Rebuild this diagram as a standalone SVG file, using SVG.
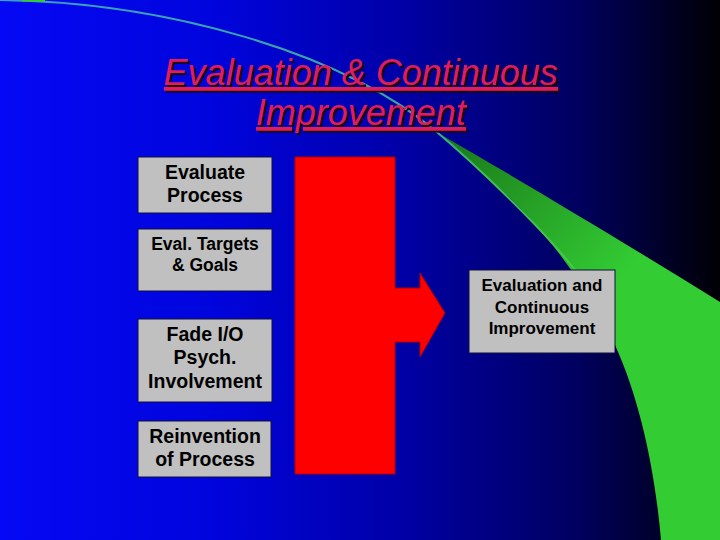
<svg xmlns="http://www.w3.org/2000/svg" width="720" height="540" viewBox="0 0 720 540">
  <defs>
    <linearGradient id="bg" x1="0" y1="0" x2="720" y2="0" gradientUnits="userSpaceOnUse">
      <stop offset="0" stop-color="#0508f4"/>
      <stop offset="0.3" stop-color="#0004dc"/>
      <stop offset="0.55" stop-color="#0000a8"/>
      <stop offset="0.8" stop-color="#000060"/>
      <stop offset="1" stop-color="#000004"/>
    </linearGradient>
    <linearGradient id="green" x1="450" y1="140" x2="610" y2="290" gradientUnits="userSpaceOnUse">
      <stop offset="0" stop-color="#1a7a1a"/>
      <stop offset="1" stop-color="#33cc33"/>
    </linearGradient>
    <linearGradient id="lineg" x1="18" y1="0" x2="575" y2="270" gradientUnits="userSpaceOnUse">
      <stop offset="0" stop-color="#3aa0c0"/>
      <stop offset="0.7" stop-color="#3aa898"/>
      <stop offset="0.8" stop-color="#40c050"/>
      <stop offset="1" stop-color="#44cc44"/>
    </linearGradient>
    <filter id="shadow" x="-5%" y="-20%" width="110%" height="140%">
      <feDropShadow dx="2" dy="2" stdDeviation="0" flood-color="#1a0010" flood-opacity="1"/>
    </filter>
    <style>
      .box { fill: #c0c0c0; stroke: #10103a; stroke-width: 1; }
      .lbl { font-family: "Liberation Sans", Arial, sans-serif; font-weight: bold; fill: #000000; text-anchor: middle; }
      .title { font-family: "Liberation Sans", Arial, sans-serif; font-style: italic; font-size: 36px; text-anchor: middle; text-decoration: underline; fill: #e01e5a; }
    </style>
  </defs>

  <rect x="0" y="0" width="720" height="540" fill="url(#bg)"/>

  <g id="swoosh">
    <path d="M 438 133 C 520 180, 620 240, 720 302 L 720 540 L 661 540 C 655 470, 640 400, 615 345 C 590 290, 545 230, 505 193 C 480 170, 456 150, 438 133 Z" fill="url(#green)"/>
    <path d="M 0 0 C 160 2, 340 50, 438 133 C 470 160, 540 225, 575 270" fill="none" stroke="url(#lineg)" stroke-width="2"/>
    <path d="M 22 0.5 L 45 1" fill="none" stroke="#33cc33" stroke-width="2"/>
  </g>

  <g id="title" filter="url(#shadow)">
    <text class="title" x="361" y="85">Evaluation &amp; Continuous</text>
    <text class="title" x="361" y="125">Improvement</text>
  </g>

  <g id="connectors">
    <path id="merge-arrow" d="M 295 157 H 395 V 288 H 420 V 273 L 445 313 L 420 357 V 342 H 395 V 474 H 295 Z" fill="#ff0000" stroke="#b00000" stroke-width="1"/>
  </g>

  <g id="evaluate-process">
    <rect class="box" x="138" y="157" width="134" height="56"/>
    <text class="lbl" x="205" y="179" font-size="19.5">Evaluate</text>
    <text class="lbl" x="205" y="202" font-size="19.5">Process</text>
  </g>

  <g id="eval-targets">
    <rect class="box" x="138" y="229" width="134" height="62"/>
    <text class="lbl" x="205" y="250" font-size="17.5">Eval. Targets</text>
    <text class="lbl" x="205" y="271" font-size="17.5">&amp; Goals</text>
  </g>

  <g id="fade-io">
    <rect class="box" x="138" y="319" width="134" height="83"/>
    <text class="lbl" x="205" y="341" font-size="19.5">Fade I/O</text>
    <text class="lbl" x="205" y="364" font-size="19.5">Psych.</text>
    <text class="lbl" x="205" y="388" font-size="19.5">Involvement</text>
  </g>

  <g id="reinvention">
    <rect class="box" x="138" y="421" width="133" height="56"/>
    <text class="lbl" x="205" y="443" font-size="19.5">Reinvention</text>
    <text class="lbl" x="205" y="466" font-size="19.5">of Process</text>
  </g>

  <g id="evaluation-ci">
    <rect class="box" x="469" y="270" width="146" height="83"/>
    <text class="lbl" x="542" y="291" font-size="17">Evaluation and</text>
    <text class="lbl" x="542" y="313" font-size="17">Continuous</text>
    <text class="lbl" x="542" y="334" font-size="17">Improvement</text>
  </g>
</svg>
